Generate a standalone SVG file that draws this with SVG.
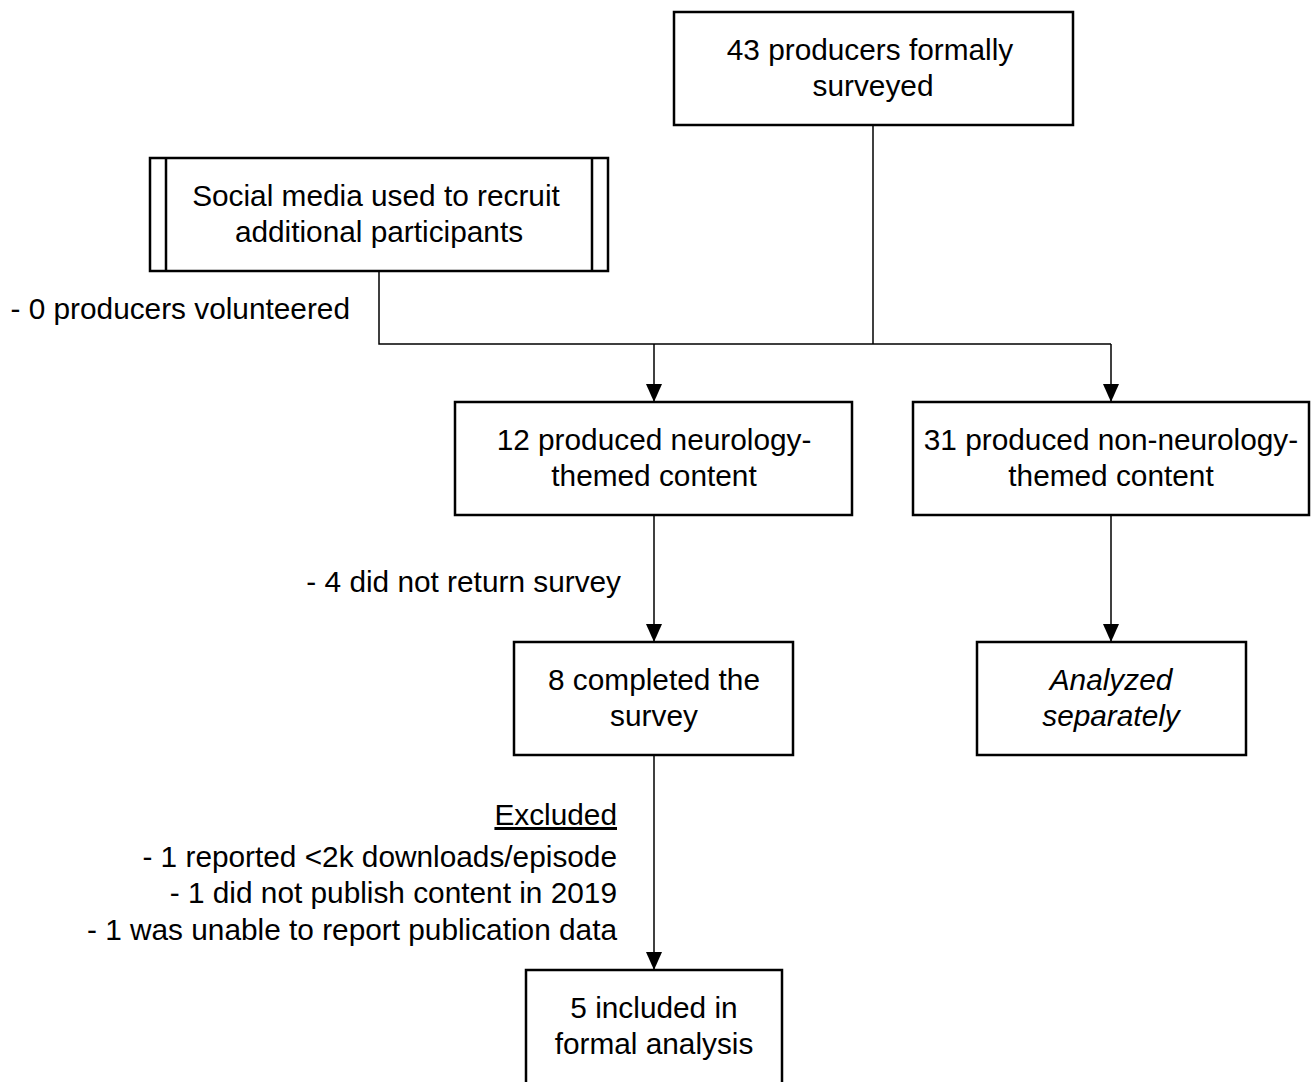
<svg xmlns="http://www.w3.org/2000/svg" width="1311" height="1082" viewBox="0 0 1311 1082">
<style>
.box{fill:#fff;stroke:#000;stroke-width:2.5}
.ln{fill:none;stroke:#000;stroke-width:1.5}
text{font-family:"Liberation Sans",Arial,sans-serif;font-size:29.8px;fill:#000}
.c{text-anchor:middle}
.r{text-anchor:end}
</style>
<defs>
<marker id="ah" viewBox="0 0 18 16" refX="18" refY="8" markerWidth="18" markerHeight="16" markerUnits="userSpaceOnUse" orient="auto">
<path d="M0,0 L18,8 L0,16 Z" fill="#000"/>
</marker>
</defs>
<rect width="1311" height="1082" fill="#fff"/>
<g id="connectors">
<path class="ln" d="M873,125 V344"/>
<path class="ln" d="M379,271 V344 H1111"/>
<path class="ln" d="M654,344 V402" marker-end="url(#ah)"/>
<path class="ln" d="M1111,344 V402" marker-end="url(#ah)"/>
<path class="ln" d="M654,515 V642" marker-end="url(#ah)"/>
<path class="ln" d="M1111,515 V642" marker-end="url(#ah)"/>
<path class="ln" d="M654,755 V970" marker-end="url(#ah)"/>
</g>
<g id="n_top">
<rect class="box" x="674" y="12" width="399" height="113"/>
<text class="c" x="870" y="60">43 producers formally</text>
<text class="c" x="873" y="96">surveyed</text>
</g>
<g id="n_social">
<rect class="box" x="150" y="158" width="458" height="113"/>
<path class="ln" d="M166,158 V271 M592,158 V271" style="stroke-width:2.5"/>
<text class="c" x="376" y="206">Social media used to recruit</text>
<text class="c" x="379" y="242">additional participants</text>
</g>
<g id="lbl_volunteer">
<text class="r" x="350" y="319">- 0 producers volunteered</text>
</g>
<g id="n_neuro">
<rect class="box" x="455" y="402" width="397" height="113"/>
<text class="c" x="654" y="450">12 produced neurology-</text>
<text class="c" x="654" y="486">themed content</text>
</g>
<g id="n_nonneuro">
<rect class="box" x="913" y="402" width="396" height="113"/>
<text class="c" x="1111" y="450">31 produced non-neurology-</text>
<text class="c" x="1111" y="486">themed content</text>
</g>
<g id="lbl_return">
<text class="r" x="621" y="592">- 4 did not return survey</text>
</g>
<g id="n_completed">
<rect class="box" x="514" y="642" width="279" height="113"/>
<text class="c" x="654" y="690">8 completed the</text>
<text class="c" x="654" y="726">survey</text>
</g>
<g id="n_analyzed">
<rect class="box" x="977" y="642" width="269" height="113"/>
<text class="c" x="1111" y="690" font-style="italic">Analyzed</text>
<text class="c" x="1111" y="726" font-style="italic">separately</text>
</g>
<g id="lbl_excluded">
<text class="r" x="617" y="825" text-decoration="underline">Excluded</text>
<text class="r" x="617" y="867">- 1 reported &lt;2k downloads/episode</text>
<text class="r" x="617" y="903">- 1 did not publish content in 2019</text>
<text class="r" x="617" y="940">- 1 was unable to report publication data</text>
</g>
<g id="n_included">
<rect class="box" x="526" y="970" width="256" height="125"/>
<text class="c" x="654" y="1018">5 included in</text>
<text class="c" x="654" y="1054">formal analysis</text>
</g>
</svg>
